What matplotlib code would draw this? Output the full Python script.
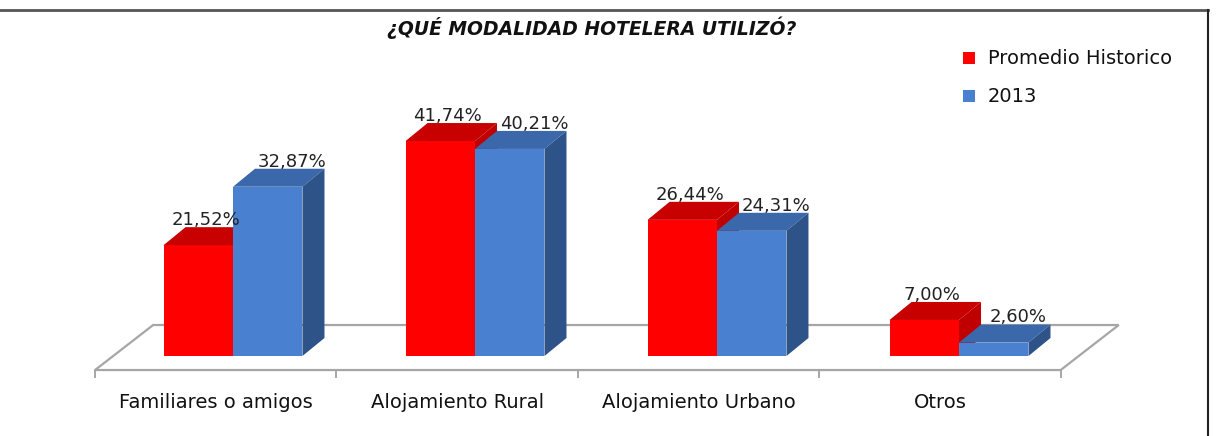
import matplotlib
matplotlib.use("Agg")
import matplotlib.pyplot as plt
from matplotlib.patches import Polygon, Rectangle
from matplotlib.lines import Line2D

categories = ["Familiares o amigos", "Alojamiento Rural", "Alojamiento Urbano", "Otros"]
series_names = ["Promedio Historico", "2013"]
promedio = [21.52, 41.74, 26.44, 7.00]
y2013 = [32.87, 40.21, 24.31, 2.60]
labels_promedio = ["21,52%", "41,74%", "26,44%", "7,00%"]
labels_2013 = ["32,87%", "40,21%", "24,31%", "2,60%"]

# colours: front, top, side
RED = ("#ff0000", "#c80000", "#c00000")
BLUE = ("#4a80d0", "#3a68aa", "#2d5389")

fig = plt.figure(figsize=(12.18, 4.36), dpi=100)
ax = fig.add_axes([0, 0, 1, 1])
ax.set_xlim(-0.9628, 4.0702)
ax.set_ylim(-15.53, 69.13)
ax.axis("off")

# fake 3d depth
DX, DY = 0.091, 3.5
BW = 0.287


def bar3d(x_left, h, cols):
    ax.bar(x_left, h, width=BW, align="edge", color=cols[0], lw=0, zorder=3)
    top = Polygon([(x_left, h), (x_left + BW, h), (x_left + BW + DX, h + DY), (x_left + DX, h + DY)],
                  closed=True, facecolor=cols[1], edgecolor="none", zorder=3)
    side = Polygon([(x_left + BW, 0), (x_left + BW + DX, DY), (x_left + BW + DX, h + DY), (x_left + BW, h)],
                   closed=True, facecolor=cols[2], edgecolor="none", zorder=3)
    ax.add_patch(top)
    ax.add_patch(side)


# floor
fx0, fx1, fy = -0.570, 3.42, -2.72
fdx, fdy = 0.24, 8.74
floor = Polygon([(fx0, fy), (fx1, fy), (fx1 + fdx, fy + fdy), (fx0 + fdx, fy + fdy)],
                closed=True, facecolor="white", edgecolor="#a6a6a6", lw=1.6, zorder=1)
ax.add_patch(floor)
for i in range(len(categories) + 1):
    xt = fx0 + i * (fx1 - fx0) / len(categories)
    ax.plot([xt, xt], [fy, fy - 1.3], color="#a6a6a6", lw=1.4, zorder=1)

for i, cat in enumerate(categories):
    bar3d(i - BW, promedio[i], RED)
    bar3d(i, y2013[i], BLUE)
    ax.text(i - BW / 2 + 0.03, promedio[i] + 4.9, labels_promedio[i], ha="center", va="center",
            fontsize=13, color="#222222", zorder=5)
    ax.text(i + BW / 2 + 0.1, y2013[i] + 4.9, labels_2013[i], ha="center", va="center",
            fontsize=13, color="#222222", zorder=5)
    ax.text(fx0 + (i + 0.5) * (fx1 - fx0) / len(categories), -8.93, cat, ha="center", va="center",
            fontsize=14, color="#111111")

fig.text(0.486, 0.937, "¿QUÉ MODALIDAD HOTELERA UTILIZÓ?", ha="center", va="center",
         fontsize=13.5, fontweight="bold", fontstyle="italic", color="#111111")

# legend
for k, (name, cols) in enumerate(zip(series_names, (RED, BLUE))):
    yy = 1 - (58 + 38 * k) / 436
    fig.patches.append(Rectangle((963 / 1218, yy - 6 / 436), 12 / 1218, 12 / 436,
                                 transform=fig.transFigure, facecolor=cols[0], edgecolor="none"))
    fig.text(988 / 1218, yy, name, ha="left", va="center", fontsize=14, color="#111111")

# chart frame (top and right)
fig.add_artist(Line2D([0, 1208 / 1218], [1 - 10 / 436, 1 - 10 / 436], color="#555555", lw=2))
fig.add_artist(Line2D([1208 / 1218, 1208 / 1218], [0, 1 - 10 / 436], color="#222222", lw=1.5))

fig.savefig("out.png", dpi=100)
